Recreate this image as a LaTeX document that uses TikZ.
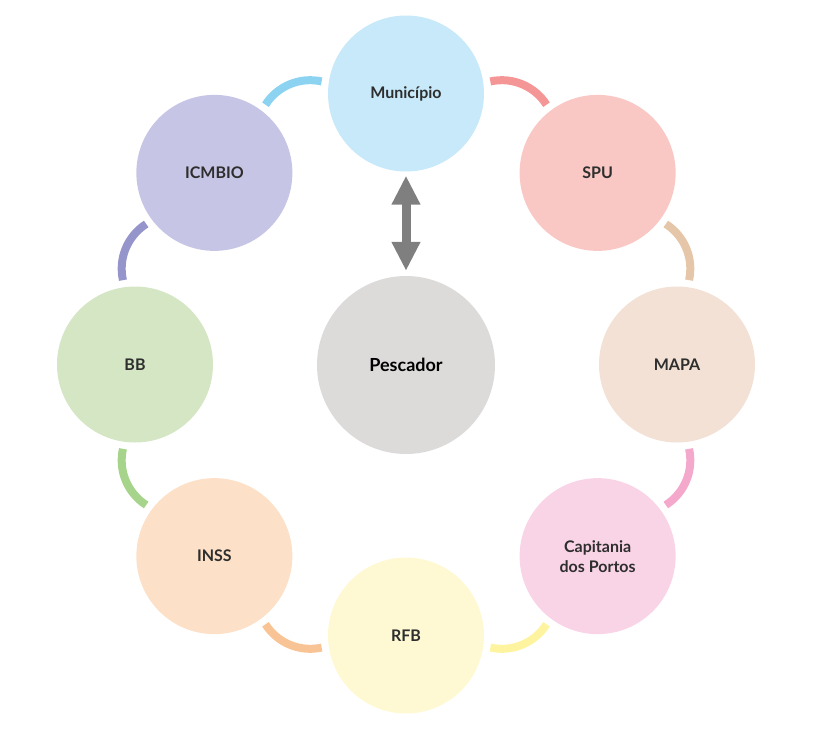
\documentclass[tikz,border=0pt]{standalone}
\usepackage{fontspec}
\setmainfont{Lato}
\usetikzlibrary{arrows.meta,calc}
\definecolor{munfill}{HTML}{C7E9FA}
\definecolor{spufill}{HTML}{F9C8C4}
\definecolor{mapafill}{HTML}{F2E1D4}
\definecolor{capfill}{HTML}{F9D4E6}
\definecolor{rfbfill}{HTML}{FEF9D3}
\definecolor{inssfill}{HTML}{FCE0C7}
\definecolor{bbfill}{HTML}{D4E6C3}
\definecolor{icmfill}{HTML}{C7C5E5}
\definecolor{pesfill}{HTML}{DDDADA}
\definecolor{munline}{HTML}{8CD3F2}
\definecolor{spuline}{HTML}{F39695}
\definecolor{mapaline}{HTML}{E5C6A8}
\definecolor{capline}{HTML}{F4A8CB}
\definecolor{rfbline}{HTML}{FEF4A0}
\definecolor{inssline}{HTML}{F9C495}
\definecolor{bbline}{HTML}{A6D48A}
\definecolor{icmline}{HTML}{9595CC}
\definecolor{arrowgray}{HTML}{7F7F7F}
\colorlet{labeltext}{black!82}

\begin{document}
\begin{tikzpicture}[x=1pt,y=1pt]
\tikzset{orgao/.style ={circle, minimum size=156pt, inner sep=0, align=center,
  text=labeltext, font=\fontsize{16}{20}\selectfont\bfseries}}
\tikzset{ligacao/.style ={line width=8pt}}
\useasboundingbox (-406,-367.5) rectangle (418,364.5);
% central node
\node[circle, minimum size=178pt, fill=pesfill, font=\fontsize{18}{21}\selectfont\bfseries] (pes) at (0,-0.5) {Pescador};
% ring of institutions
\node[orgao, fill=munfill] (mun) at (90:271) {Município};
\node[orgao, fill=spufill] (spu) at (45:271) {SPU};
\node[orgao, fill=mapafill] (mapa) at (0:271) {MAPA};
\node[orgao, fill=capfill] (cap) at (-45:271) {Capitania\\dos Portos};
\node[orgao, fill=rfbfill] (rfb) at (-90:271) {RFB};
\node[orgao, fill=inssfill] (inss) at (-135:271) {INSS};
\node[orgao, fill=bbfill] (bb) at (180:271) {BB};
\node[orgao, fill=icmfill] (icm) at (135:271) {ICMBIO};
% arcs between neighbours
\draw[ligacao, spuline] ($(mun)!0.5!(spu)$) ++(102.5:53pt) arc[start angle=102.5, end angle=32.5, radius=53pt];
\draw[ligacao, mapaline] ($(spu)!0.5!(mapa)$) ++(57.5:53pt) arc[start angle=57.5, end angle=-12.5, radius=53pt];
\draw[ligacao, capline] ($(mapa)!0.5!(cap)$) ++(12.5:53pt) arc[start angle=12.5, end angle=-57.5, radius=53pt];
\draw[ligacao, rfbline] ($(cap)!0.5!(rfb)$) ++(-32.5:53pt) arc[start angle=-32.5, end angle=-102.5, radius=53pt];
\draw[ligacao, inssline] ($(rfb)!0.5!(inss)$) ++(-77.5:53pt) arc[start angle=-77.5, end angle=-147.5, radius=53pt];
\draw[ligacao, bbline] ($(inss)!0.5!(bb)$) ++(-122.5:53pt) arc[start angle=-122.5, end angle=-192.5, radius=53pt];
\draw[ligacao, icmline] ($(bb)!0.5!(icm)$) ++(-167.5:53pt) arc[start angle=-167.5, end angle=-237.5, radius=53pt];
\draw[ligacao, munline] ($(icm)!0.5!(mun)$) ++(147.5:53pt) arc[start angle=147.5, end angle=77.5, radius=53pt];
% double arrow
\draw[line width=9pt, arrowgray, {Triangle[length=29pt,width=27pt]}-{Triangle[length=29pt,width=27pt]}]
  ($(mun.south)+(0,-4)$) -- ($(pes.north)+(0,5)$);
\end{tikzpicture}
\end{document}
